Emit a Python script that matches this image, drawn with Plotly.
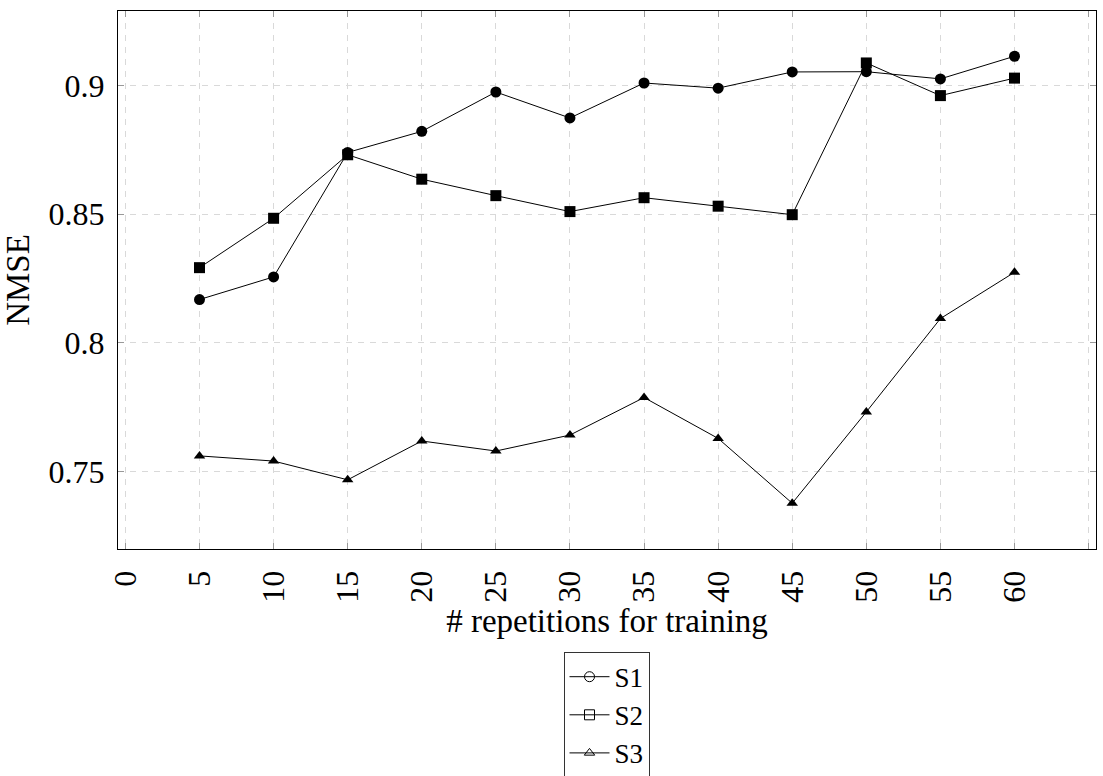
import plotly.graph_objects as go

reps = [5, 10, 15, 20, 25, 30, 35, 40, 45, 50, 55, 60]
s1 = [0.8168, 0.8256, 0.8740, 0.8822, 0.8975, 0.8874, 0.9010, 0.8990, 0.9053, 0.9054, 0.9026, 0.9114]
s2 = [0.8292, 0.8484, 0.8731, 0.8636, 0.8572, 0.8510, 0.8564, 0.8531, 0.8498, 0.9088, 0.8961, 0.9029]
s3 = [0.7560, 0.7540, 0.7467, 0.7618, 0.7579, 0.7641, 0.7787, 0.7628, 0.7376, 0.7731, 0.8094, 0.8274]
series_names = ["S1", "S2", "S3"]
x_ticks = list(range(0, 70, 5))
y_ticks = [0.75, 0.8, 0.85, 0.9]
y_tick_labels = ["0.75", "0.8", "0.85", "0.9"]

FONT = "Liberation Serif"
series = [s1, s2, s3]
symbols = ["circle", "square", "triangle-up"]
sizes = [11, 11, 10]

fig = go.Figure()
for name, ys, sym, sz in zip(series_names, series, symbols, sizes):
    fig.add_trace(go.Scatter(
        x=reps, y=ys, mode="lines+markers", name=name, showlegend=False,
        line=dict(color="black", width=1),
        marker=dict(symbol=sym, size=sz, color="black"),
    ))
# legend entries with open markers
leg_sizes = [10, 10, 9]
for name, sym, sz in zip(series_names, symbols, leg_sizes):
    fig.add_trace(go.Scatter(
        x=[None], y=[None], mode="lines+markers", name=name,
        line=dict(color="black", width=1),
        marker=dict(symbol=sym + "-open", size=sz, color="black", line=dict(width=1)),
    ))

axis_common = dict(
    showline=True, linecolor="black", linewidth=1, mirror="allticks",
    ticks="inside", ticklen=6, tickcolor="#999999", tickwidth=1,
    showgrid=True, gridcolor="#d9d9d9", gridwidth=1, griddash="6px,6px",
    zeroline=False,
    tickfont=dict(family=FONT, size=32, color="black"),
)

fig.update_xaxes(
    **axis_common,
    range=[-0.5, 65.5], tickvals=x_ticks, tickangle=-90,
    ticklabelstandoff=8,
    title=dict(text="# repetitions for training", font=dict(family=FONT, size=33, color="black"), standoff=0),
)
fig.update_yaxes(
    **axis_common,
    range=[0.7198, 0.9290], tickvals=y_ticks, ticktext=y_tick_labels,
    ticklabelstandoff=6,
    title=dict(text="NMSE", font=dict(family=FONT, size=33, color="black"), standoff=12),
)

fig.update_layout(
    width=1103, height=776,
    margin=dict(l=118, r=7, t=11, b=227, autoexpand=False),
    plot_bgcolor="white", paper_bgcolor="white",
    font=dict(family=FONT, color="black"),
    legend=dict(
        x=0.4995, xanchor="center", y=-0.1908, yanchor="top",
        bordercolor="#333333", borderwidth=1, bgcolor="white",
        font=dict(family=FONT, size=27, color="black"),
        itemwidth=40, tracegroupgap=0,
    ),
)

fig.write_html("out.html")
